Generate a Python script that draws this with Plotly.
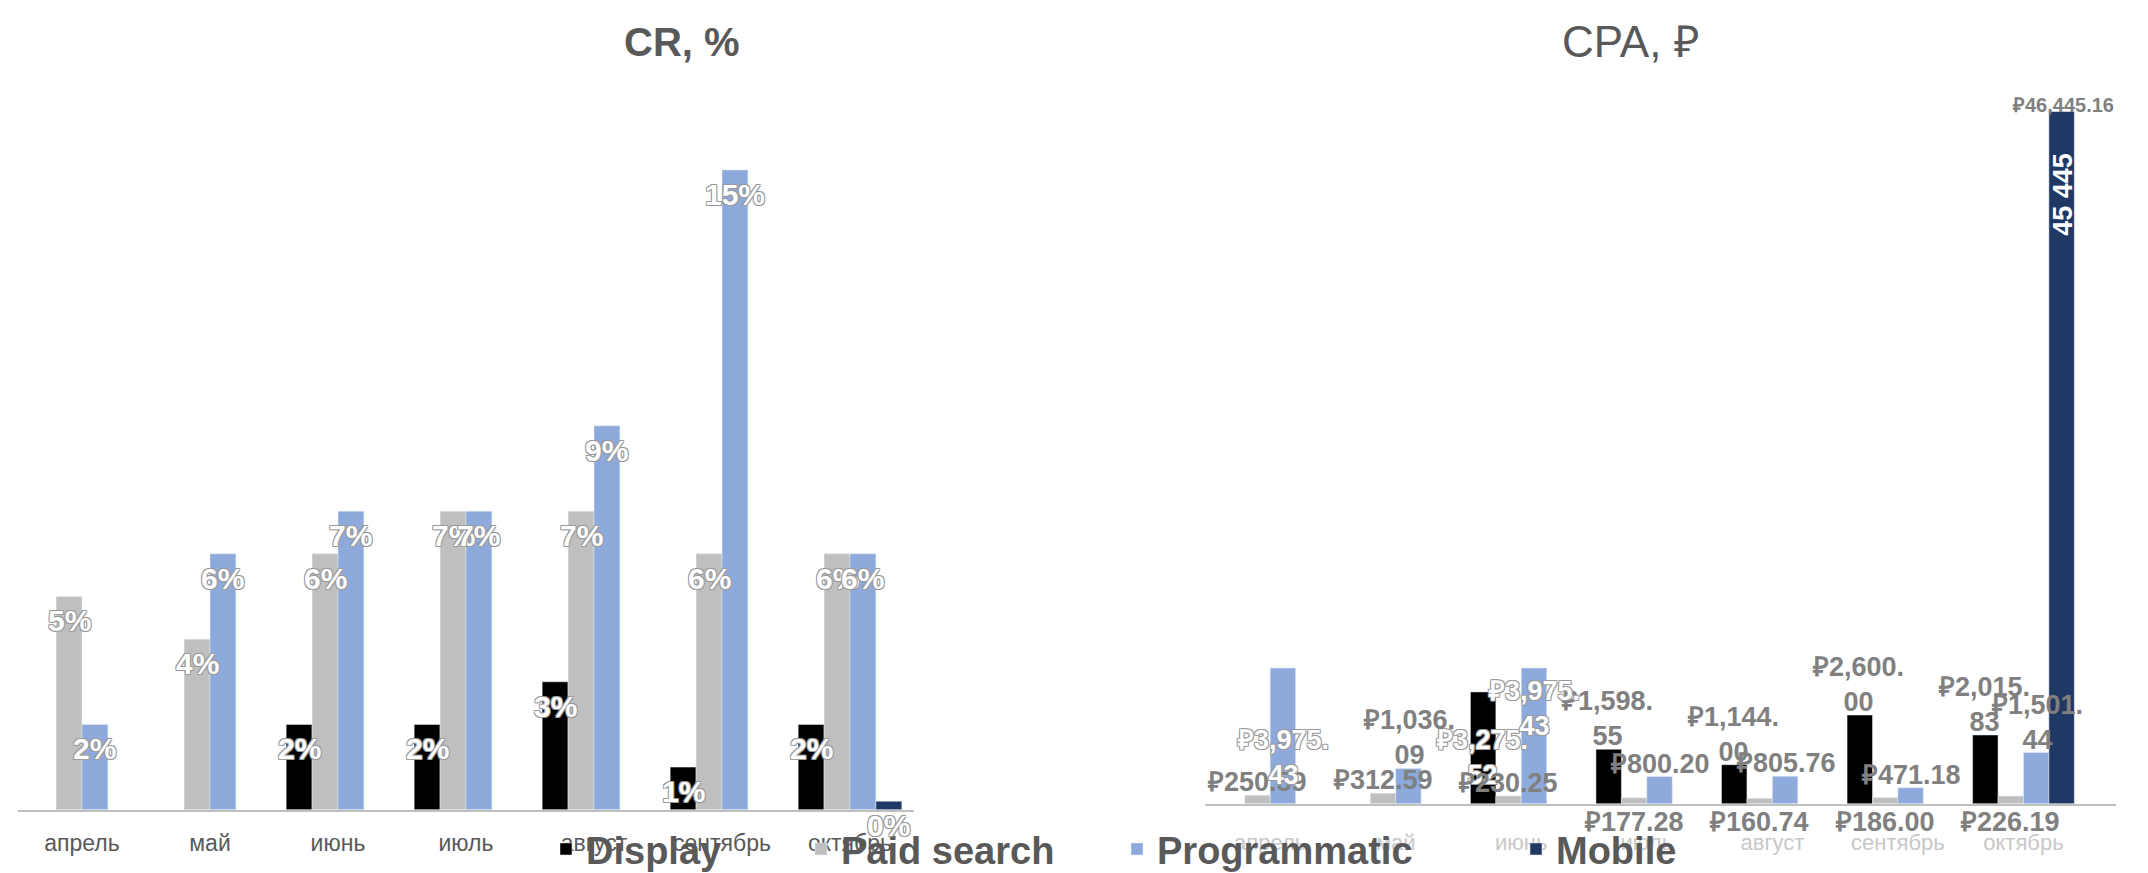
import plotly.graph_objects as go

# --- data ---
months = ["апрель", "май", "июнь", "июль", "август", "сентябрь", "октябрь"]
series = ["Display", "Paid search", "Programmatic", "Mobile"]

cr_display = [None, None, 0.02, 0.02, 0.03, 0.01, 0.02]
cr_paid = [0.05, 0.04, 0.06, 0.07, 0.07, 0.06, 0.06]
cr_prog = [0.02, 0.06, 0.07, 0.07, 0.09, 0.15, 0.06]
cr_mobile = [None, None, None, None, None, None, 0.002]

cpa_display = [None, None, 3275.52, 1598.55, 1144.00, 2600.00, 2015.83]
cpa_paid = [250.59, 312.59, 230.25, 177.28, 160.74, 186.00, 226.19]
cpa_prog = [3975.43, 1036.09, 3975.43, 800.20, 805.76, 471.18, 1501.44]
cpa_mobile = [None, None, None, None, None, None, 46445.16]
mobile_note = "45 445"

cr_values = [cr_display, cr_paid, cr_prog, cr_mobile]
cpa_values = [cpa_display, cpa_paid, cpa_prog, cpa_mobile]

# --- styles ---
colors = ["#000000", "#BFBFBF", "#8EA9DB", "#203864"]
W, H = 2148, 873
FONT = "Liberation Sans, Arial, sans-serif"
GREY = "#595959"
bargap = 0.19
outline = ", ".join(f"{dx}px {dy}px 0 #9A9A9A" for dx, dy in [(1, 1), (-1, -1), (1, -1), (-1, 1)])

# where each CPA label sits: end = above bar, base = inside at bottom,
# inside = inside at top, below = under the axis line
cpa_label_pos = [
    [None, None, "base", "end", "end", "end", "end"],
    ["end", "end", "end", "below", "below", "below", "below"],
    ["base", "end", "inside", "end", "end", "end", "end"],
    [None, None, None, None, None, None, "top"],
]

# pixel layout of the two panels
left_px = (10, 906)
right_px = (1197, 2108)
left_base, left_top = 812, 100
right_base, right_top = 806, 105


def fx(p):
    return p / W


def fy(p):
    return (H - p) / H


fig = go.Figure()
for i, name in enumerate(series):
    leg = "legend" if i == 0 else f"legend{i + 1}"
    fig.add_trace(go.Bar(x=months, y=cr_values[i], name=name, marker_color=colors[i],
                         xaxis="x", yaxis="y", legend=leg, legendgroup=name))
    fig.add_trace(go.Bar(x=months, y=cpa_values[i], name=name, marker_color=colors[i],
                         xaxis="x2", yaxis="y2", showlegend=False, legendgroup=name))

annotations = []

# CR labels: white with grey outline, inside the bar top
cat_w = (left_px[1] - left_px[0]) / len(months)
bar_w = cat_w * (1 - bargap) / 4
for i, vals in enumerate(cr_values):
    for m, v in zip(months, vals):
        if v is None:
            continue
        annotations.append(dict(
            x=m, y=v, xref="x", yref="y", text=f"{v:.0%}", showarrow=False,
            xshift=(i - 1.5) * bar_w, yanchor="top", yshift=-6,
            font=dict(family=FONT, size=30, color="white", weight="bold", shadow=outline)))

# CPA labels
cat_w2 = (right_px[1] - right_px[0]) / len(months)
bar_w2 = cat_w2 * (1 - bargap) / 4
for i, vals in enumerate(cpa_values):
    for j, (m, v) in enumerate(zip(months, vals)):
        if v is None:
            continue
        pos = cpa_label_pos[i][j]
        txt = f"₽{v:,.2f}"
        if pos == "top":
            annotations.append(dict(
                x=m, y=1, xref="x2", yref="y2 domain", text=txt, showarrow=False,
                xshift=(i - 1.5) * bar_w2, yanchor="bottom", yshift=-6,
                font=dict(family=FONT, size=20, color="#7F7F7F", weight="bold")))
            annotations.append(dict(
                x=m, y=0.88, xref="x2", yref="y2 domain", text=mobile_note, showarrow=False,
                xshift=(i - 1.5) * bar_w2, textangle=-90, xanchor="center", yanchor="middle",
                font=dict(family=FONT, size=27, color="white", weight="bold")))
            continue
        if v >= 1000:
            a, b = txt.split(".")
            txt = a + ".<br>" + b
        hollow = pos in ("base", "inside")
        font = dict(family=FONT, size=27, weight="bold",
                    color="white" if hollow else "#808080")
        if hollow:
            font["shadow"] = outline
        ann = dict(x=m, xref="x2", yref="y2", text=txt, showarrow=False,
                   xshift=(i - 1.5) * bar_w2, font=font)
        if pos == "end":
            ann.update(y=v, yanchor="bottom", yshift=-4)
        elif pos == "inside":
            ann.update(y=v, yanchor="top", yshift=-6)
        elif pos == "base":
            ann.update(y=0, yanchor="bottom", yshift=12)
        else:
            ann.update(y=0, yanchor="top", yshift=-1)
        annotations.append(ann)

# titles
annotations.append(dict(x=fx(674), y=fy(34), xref="paper", yref="paper", text="CR, %",
                        showarrow=False, xanchor="center", yanchor="middle",
                        font=dict(family=FONT, size=40, color=GREY, weight="bold")))
annotations.append(dict(x=fx(1623), y=fy(34), xref="paper", yref="paper", text="CPA, ₽",
                        showarrow=False, xanchor="center", yanchor="middle",
                        font=dict(family=FONT, size=44, color=GREY)))

legend_style = dict(orientation="h", yanchor="middle", y=fy(852), xanchor="left",
                    bgcolor="rgba(0,0,0,0)",
                    font=dict(family=FONT, size=38, color=GREY, weight="bold"))
legend_marks = [560, 815, 1131, 1530]

fig.update_layout(
    width=W, height=H,
    margin=dict(l=0, r=0, t=0, b=0),
    paper_bgcolor="white", plot_bgcolor="white",
    barmode="group", bargap=bargap, bargroupgap=0,
    annotations=annotations,
    xaxis=dict(domain=[fx(left_px[0]), fx(left_px[1])], anchor="y", showline=True,
               linecolor="#BFBFBF", linewidth=2, showgrid=False, zeroline=False, ticks="",
               ticklabelstandoff=12, tickfont=dict(family=FONT, size=23, color=GREY)),
    yaxis=dict(domain=[fy(left_base), fy(left_top)], anchor="x",
               range=[0, (left_base - left_top) / 43.2 / 100], visible=False),
    xaxis2=dict(domain=[fx(right_px[0]), fx(right_px[1])], anchor="y2", showline=True,
                linecolor="#BFBFBF", linewidth=2, showgrid=False, zeroline=False, ticks="",
                ticklabelstandoff=18, tickfont=dict(family=FONT, size=22, color="#C8C8C8")),
    yaxis2=dict(domain=[fy(right_base), fy(right_top)], anchor="x2",
                range=[0, (right_base - right_top) / 0.0346], visible=False),
    legend=dict(legend_style, x=fx(legend_marks[0] - 22)),
    legend2=dict(legend_style, x=fx(legend_marks[1] - 22)),
    legend3=dict(legend_style, x=fx(legend_marks[2] - 22)),
    legend4=dict(legend_style, x=fx(legend_marks[3] - 22)),
)

fig.write_html("out.html")
